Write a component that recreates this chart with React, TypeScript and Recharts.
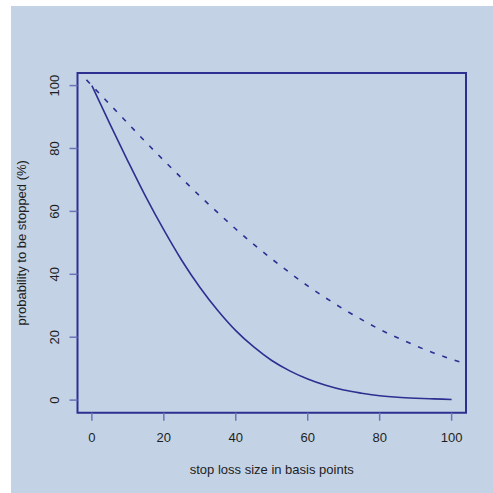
import { LineChart, Line, XAxis, YAxis, ReferenceArea, Label } from "recharts";

// stop loss size (basis points) and probability to be stopped (%)
const xTicks = [0, 20, 40, 60, 80, 100];
const yTicks = [0, 20, 40, 60, 80, 100];

const solidX = [0, 5, 10, 15, 20, 25, 30, 35, 40, 45, 50, 55, 60, 65, 70, 75, 80, 85, 90, 95, 100];
const solidY = [100, 87.8, 76.0, 64.6, 54.1, 44.4, 35.9, 28.5, 22.1, 16.9, 12.6, 9.3, 6.7, 4.7, 3.2, 2.2, 1.4, 0.9, 0.6, 0.4, 0.2];

const dashedX = [-1.5, 0, 5, 10, 15, 20, 25, 30, 35, 40, 45, 50, 55, 60, 65, 70, 75, 80, 85, 90, 95, 100, 104];
const dashedY = [101.8, 100, 94.0, 88.0, 82.0, 76.2, 70.5, 64.9, 59.6, 54.4, 49.5, 44.9, 40.5, 36.3, 32.5, 28.9, 25.6, 22.5, 19.8, 17.3, 15.0, 13.0, 11.5];

const solidData = solidX.map((x, i) => ({ x, p: solidY[i] }));
const dashedData = dashedX.map((x, i) => ({ x, p: dashedY[i] }));

const FONT = "'Liberation Sans', Arial, Helvetica, sans-serif";
const LINE = "#2D3091";
const TICK = "#6C73BC";
const TEXT = "#1E1E1E";

const YTick = (props: any) => {
  const { x, y, payload } = props;
  return (
    <text
      x={x}
      y={y}
      textAnchor="middle"
      fontSize={13}
      fontFamily={FONT}
      fill={TEXT}
      transform={`rotate(-90, ${x}, ${y})`}
    >
      {payload.value}
    </text>
  );
};

export default function App() {
  return (
    <div
      style={{
        position: "absolute",
        left: 11,
        top: 6,
        width: 482,
        height: 487,
        background: "#C4D2E5",
      }}
    >
      <LineChart
        width={482}
        height={487}
        margin={{ top: 67, right: 27, left: 6.5, bottom: 20.3 }}
      >
        <XAxis
          type="number"
          dataKey="x"
          domain={[-4, 104]}
          ticks={xTicks}
          allowDataOverflow
          axisLine={false}
          tickLine={{ stroke: TICK, strokeWidth: 1.5 }}
          tickSize={8}
          tickMargin={12}
          height={60}
          tick={{ fill: TEXT, fontSize: 13, fontFamily: FONT }}
        >
          <Label
            content={({ viewBox }: any) => (
              <text
                x={viewBox.x + viewBox.width / 2}
                y={viewBox.y + 61.3}
                textAnchor="middle"
                fontSize={13}
                fontFamily={FONT}
                fill={TEXT}
              >
                stop loss size in basis points
              </text>
            )}
          />
        </XAxis>
        <YAxis
          type="number"
          domain={[-4, 104]}
          ticks={yTicks}
          allowDataOverflow
          axisLine={false}
          tickLine={{ stroke: TICK, strokeWidth: 1.5 }}
          tickSize={8}
          tickMargin={10.2}
          width={60}
          tick={<YTick />}
        >
          <Label
            content={({ viewBox }: any) => {
              const cx = viewBox.x + 9;
              const cy = viewBox.y + viewBox.height / 2;
              return (
                <text
                  x={cx}
                  y={cy}
                  textAnchor="middle"
                  fontSize={13}
                  fontFamily={FONT}
                  fill={TEXT}
                  transform={`rotate(-90, ${cx}, ${cy})`}
                >
                  probability to be stopped (%)
                </text>
              );
            }}
          />
        </YAxis>
        <ReferenceArea
          x1={-4}
          x2={104}
          y1={-4}
          y2={104}
          fill="none"
          fillOpacity={0}
          stroke={LINE}
          strokeWidth={2}
          ifOverflow="visible"
        />
        <Line
          data={solidData}
          dataKey="p"
          type="monotone"
          stroke={LINE}
          strokeWidth={1.6}
          dot={false}
          activeDot={false}
          isAnimationActive={false}
        />
        <Line
          data={dashedData}
          dataKey="p"
          type="monotone"
          stroke={LINE}
          strokeWidth={1.6}
          strokeDasharray="5 8"
          dot={false}
          activeDot={false}
          isAnimationActive={false}
        />
      </LineChart>
    </div>
  );
}
